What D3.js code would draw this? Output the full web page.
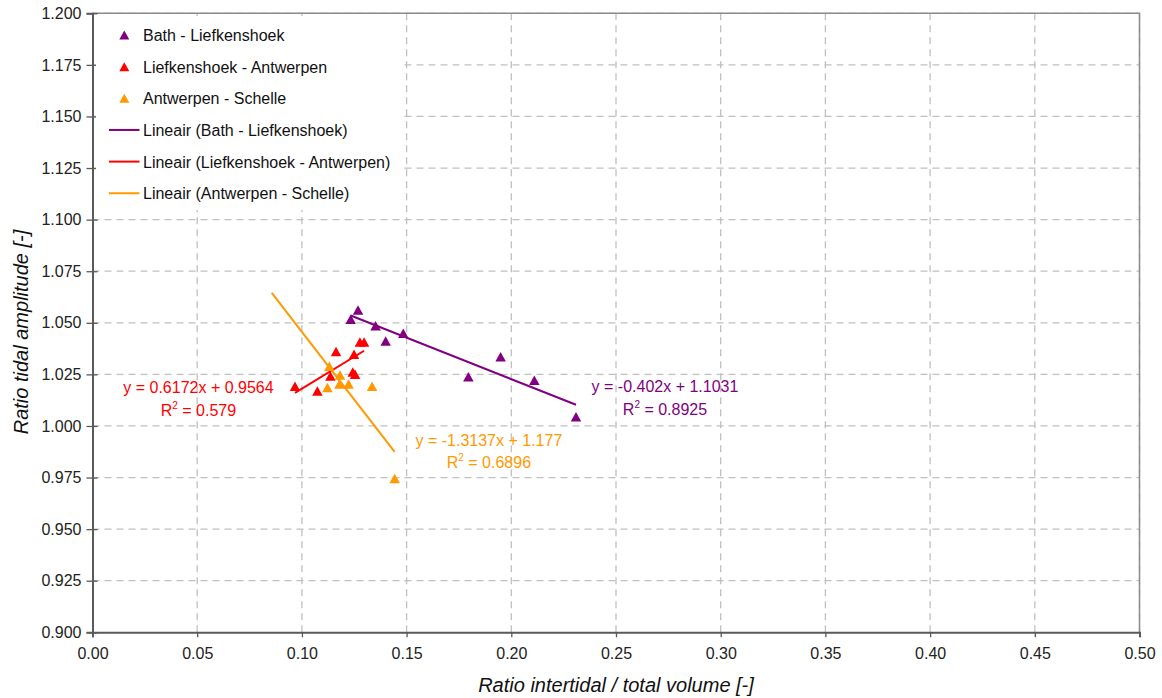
<!DOCTYPE html>
<html>
<head>
<meta charset="utf-8">
<script src="https://cdn.jsdelivr.net/npm/d3@7"></script>
<style>
  html, body { margin: 0; padding: 0; background: #fff; }
  svg { display: block; font-family: "Liberation Sans", Arial, sans-serif; }
</style>
</head>
<body>
<svg id="chart" width="1162" height="698"></svg>
<script>
// ---- Data ----
const seriesNames = ["Bath - Liefkenshoek", "Liefkenshoek - Antwerpen", "Antwerpen - Schelle"];
const trendNames = ["Lineair (Bath - Liefkenshoek)", "Lineair (Liefkenshoek - Antwerpen)", "Lineair (Antwerpen - Schelle)"];

const bathX = [0.1233, 0.1268, 0.1352, 0.1400, 0.1484, 0.1795, 0.1949, 0.2110, 0.2309];
const bathY = [1.0517, 1.0562, 1.0486, 1.0412, 1.0449, 1.0238, 1.0335, 1.0222, 1.0045];

const liefX = [0.0967, 0.1074, 0.1163, 0.1136, 0.1249, 0.1277, 0.1297, 0.1243, 0.1254];
const liefY = [1.0193, 1.0169, 1.0361, 1.0242, 1.0347, 1.0407, 1.0407, 1.0261, 1.0251];

const antwX = [0.1131, 0.1122, 0.1182, 0.1179, 0.1223, 0.1335, 0.1443];
const antwY = [1.0290, 1.0186, 1.0247, 1.0203, 1.0203, 1.0193, 0.9746];

// trendlines: slope, intercept, x-range
const trendSlopes = [-0.402, 0.6172, -1.3137];
const trendIntercepts = [1.1031, 0.9564, 1.177];
const trendXStart = [0.1233, 0.0967, 0.0856];
const trendXEnd = [0.2309, 0.1297, 0.1443];
const trendEqTexts = ["y = -0.402x + 1.1031", "y = 0.6172x + 0.9564", "y = -1.3137x + 1.177"];
const trendR2Texts = [" = 0.8925", " = 0.579", " = 0.6896"];
const trendLabelX = [0.2734, 0.0506, 0.1893];   // label anchor (data units)
const trendLabelY = [1.0164, 1.0159, 0.9903];

const xTicks = d3.range(0, 0.5001, 0.05);
const yTicks = d3.range(0.9, 1.2001, 0.025);

const xLabel = "Ratio intertidal / total volume [-]";
const yLabel = "Ratio tidal amplitude [-]";

const colors = ["#800080", "#ff0000", "#ff9900"];

// ---- Layout ----
const svg = d3.select("#chart");
const pL = 92.5, pR = 1139.5, pT = 13.3, pB = 632.3;
const x = d3.scaleLinear().domain([0, 0.5]).range([pL, pR]);
const y = d3.scaleLinear().domain([0.9, 1.2]).range([pB, pT]);

// gridlines
const grid = svg.append("g");
grid.selectAll(null).data(xTicks.slice(1)).enter().append("line")
  .attr("x1", d => x(d)).attr("x2", d => x(d)).attr("y1", pT).attr("y2", pB)
  .attr("stroke", "#c0c0c0").attr("stroke-width", 1.3).attr("stroke-dasharray", "7,5");
grid.selectAll(null).data(yTicks.slice(1)).enter().append("line")
  .attr("x1", pL).attr("x2", pR).attr("y1", d => y(d)).attr("y2", d => y(d))
  .attr("stroke", "#c0c0c0").attr("stroke-width", 1.3).attr("stroke-dasharray", "7,5");

// plot border top/right
svg.append("path")
  .attr("d", `M${pL},${pT}H${pR}V${pB}`)
  .attr("fill", "none").attr("stroke", "#8c8c8c").attr("stroke-width", 1.5);

// axes
const xAxis = d3.axisBottom(x).tickValues(xTicks).tickFormat(d3.format(".2f")).tickSize(5).tickPadding(10);
const yAxis = d3.axisLeft(y).tickValues(yTicks).tickFormat(d3.format(".3f")).tickSize(6).tickPadding(5);

const gx = svg.append("g").attr("transform", `translate(0,${pB})`).call(xAxis);
const gy = svg.append("g").attr("transform", `translate(${pL},0)`).call(yAxis);
[gx, gy].forEach(g => {
  g.select(".domain").attr("stroke", "#5a5a5a").attr("stroke-width", 2);
  g.selectAll(".tick line").attr("stroke", "#5a5a5a").attr("stroke-width", 1.3);
  g.selectAll(".tick text").attr("fill", "#222").style("font-size", "16px")
    .style("font-family", "'Liberation Sans', Arial, sans-serif");
});
gy.selectAll(".tick").append("line").attr("x1", 0).attr("x2", 5).attr("stroke", "#5a5a5a").attr("stroke-width", 1.3);

// axis titles
svg.append("text").attr("x", (pL + pR) / 2).attr("y", 692)
  .attr("text-anchor", "middle").style("font-size", "20px").style("font-style", "italic")
  .attr("fill", "#111").text(xLabel);
svg.append("text").attr("transform", `translate(27.5,332) rotate(-90)`)
  .attr("text-anchor", "middle").style("font-size", "20px").style("font-style", "italic")
  .attr("fill", "#111").text(yLabel);

// legend background
svg.append("rect").attr("x", 96).attr("y", 16).attr("width", 304).attr("height", 194).attr("fill", "#fff");

function tri(cx, cy, w = 10.5, h = 9.5) {
  return `M${cx},${cy - h / 2}L${cx + w / 2},${cy + h / 2}L${cx - w / 2},${cy + h / 2}Z`;
}

// trendlines
const plot = svg.append("g");
trendSlopes.forEach((m, i) => {
  const pts = [trendXStart[i], trendXEnd[i]].map(v => [v, m * v + trendIntercepts[i]]);
  plot.append("path")
    .attr("d", d3.line().x(d => x(d[0])).y(d => y(d[1]))(pts))
    .attr("stroke", colors[i]).attr("stroke-width", 2).attr("fill", "none");
});

// points
const allSeries = [[bathX, bathY], [liefX, liefY], [antwX, antwY]];
allSeries.forEach(([xs, ys], i) => {
  plot.selectAll(null).data(xs.map((v, k) => [v, ys[k]])).enter().append("path")
    .attr("d", d => tri(x(d[0]), y(d[1])))
    .attr("fill", colors[i]);
});

// trend labels
trendEqTexts.forEach((t, i) => {
  const lx = x(trendLabelX[i]), ly = y(trendLabelY[i]);
  svg.append("text").attr("x", lx).attr("y", ly).attr("text-anchor", "middle")
    .style("font-size", "16px").attr("fill", colors[i]).text(t);
  const r = svg.append("text").attr("x", lx).attr("y", ly + 22.5).attr("text-anchor", "middle")
    .style("font-size", "16px").attr("fill", colors[i]);
  r.append("tspan").text("R");
  r.append("tspan").attr("dy", -7).style("font-size", "10px").text("2");
  r.append("tspan").attr("dy", 7).text(trendR2Texts[i]);
});

// legend
const legY0 = 35, legDy = 31.65;
seriesNames.forEach((n, i) => {
  const cy = legY0 + i * legDy;
  svg.append("path").attr("d", tri(124.3, cy, 10, 9)).attr("fill", colors[i]);
  svg.append("text").attr("x", 143).attr("y", cy + 6).style("font-size", "16px").attr("fill", "#111").text(n);
});
trendNames.forEach((n, i) => {
  const cy = legY0 + (i + 3) * legDy;
  svg.append("line").attr("x1", 109).attr("x2", 139.5).attr("y1", cy).attr("y2", cy)
    .attr("stroke", colors[i]).attr("stroke-width", 2);
  svg.append("text").attr("x", 143).attr("y", cy + 6).style("font-size", "16px").attr("fill", "#111").text(n);
});
</script>
</body>
</html>
